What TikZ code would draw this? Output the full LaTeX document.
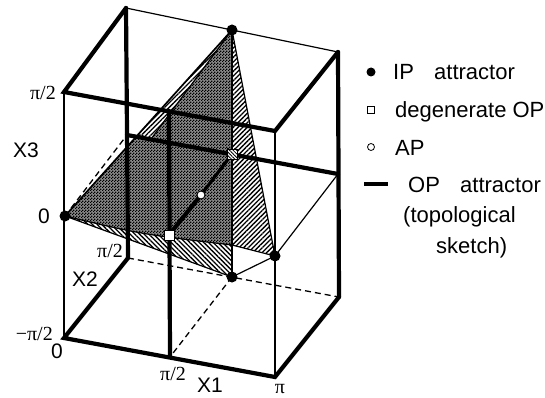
\documentclass[tikz,border=0pt]{standalone}
\usepackage{fontspec}
\setmainfont{Liberation Sans}
\newfontfamily\pifont{Liberation Serif}
\usetikzlibrary{patterns,patterns.meta}
\pgfdeclarepattern{
  name=chk,
  type=uncolored,
  bottom left={\pgfpoint{0pt}{0pt}},
  top right={\pgfpoint{3pt}{3pt}},
  tile size={\pgfpoint{3pt}{3pt}},
  code={
    \pgfpathrectangle{\pgfpoint{0pt}{0pt}}{\pgfpoint{1.6pt}{1.6pt}}
    \pgfpathrectangle{\pgfpoint{1.5pt}{1.5pt}}{\pgfpoint{1.5pt}{1.5pt}}
    \pgfusepath{fill}
  }
}
\begin{document}
\begin{tikzpicture}[x=1pt,y=-1pt,
  opline/.style={line width=4.2pt,line cap=round,line join=miter},
  thinln/.style={line width=1.2pt},
  dashln/.style={line width=1.3pt,dash pattern=on 6pt off 4pt},
  ipdot/.style={circle,fill=black,inner sep=0pt,minimum size=11pt},
  dgsq/.style={rectangle,draw=black,line width=0.9pt,fill=white,inner sep=0pt,minimum size=10pt},
  apcirc/.style={circle,draw=black,line width=0.9pt,fill=white,inner sep=0pt,minimum size=8pt},
  lbl/.style={inner sep=0pt,font=\fontsize{22}{26}\selectfont},
  axl/.style={inner sep=0pt,font=\fontsize{21}{24}\selectfont},
  pilbl/.style={inner sep=0pt,font=\pifont\fontsize{20}{24}\selectfont},
  xhatch/.style={pattern=chk,pattern color=black},
  hatchnw/.style={pattern={Lines[angle=-45,distance=3.3pt,line width=1.3pt]}},
  hatchne/.style={pattern={Lines[angle=45,distance=3.3pt,line width=1.3pt]}},
]
\useasboundingbox (0,0) rectangle (545,398);
% box corners
\coordinate (A) at (64,338);
\coordinate (B) at (275,377);
\coordinate (C) at (275,131);
\coordinate (D) at (64,92);
\coordinate (E) at (128,258);
\coordinate (F) at (339,297);
\coordinate (G) at (338,52);
\coordinate (H) at (126,8);
% inner points
\coordinate (Mfb) at (170,357);
\coordinate (Mft) at (169,111);
\coordinate (Mbb) at (232,277);
\coordinate (Mbt) at (232,30);
\coordinate (L0) at (65,216);
\coordinate (L0b) at (127,135);
\coordinate (R0) at (275,256);
\coordinate (R0b) at (338,174);
\coordinate (M0) at (169,235);
\coordinate (M0b) at (232,154);
\coordinate (AP) at (201,195);
\coordinate (S1) at (232,245);
\coordinate (In) at (151,139);
\coordinate (Out) at (139,133);
% shaded surfaces
\fill[hatchne] (Mbt) -- (R0) -- (S1) -- cycle;
\fill[hatchnw] (L0) -- (Mbb) -- (S1) .. controls (140,234) .. (L0) -- cycle;
\fill[black!46] (L0) -- (Mbt) -- (S1) .. controls (140,234) .. (L0) -- cycle;
\fill[xhatch] (L0) -- (Mbt) -- (S1) .. controls (140,234) .. (L0) -- cycle;
\fill[white] (Mbt) -- (In) -- (Out) -- cycle;
\fill[hatchne] (Mbt) -- (In) -- (Out) -- cycle;
% surface edges
\draw[thinln] (L0) -- (Mbb);
\draw[thinln] (S1) .. controls (140,234) .. (L0);
\draw[line width=1.7pt] (L0) -- (Mbt);
\draw[thinln] (Mbt) -- (In);
\draw[thinln] (Mbt) -- (Mbb);
\draw[thinln] (Mbt) -- (R0);
\draw[thinln] (S1) -- (R0);
% hidden lines
\draw[dashln] (E) -- (F);
\draw[dashln] (Mbb) -- (Mfb);
\draw[dashln] (L0) -- (L0b);
% thin lines
\draw[thinln] (A) -- (D);
\draw[thinln] (B) -- (C);
\draw[thinln] (H) -- (G);
\draw[thinln] (R0) -- (R0b);
\draw[thinln] (Mbb) -- (R0);
% OP attractor lines
\draw[opline] (E) -- (A) -- (B) -- (F);
\draw[opline] (H) -- (D) -- (C) -- (G);
\draw[opline] (H) -- (E);
\draw[opline] (G) -- (F);
\draw[opline] (Mft) -- (Mfb);
\draw[opline] (L0b) -- (R0b);
\draw[opline] (M0) -- (AP);
\draw[opline,line width=3.2pt] (AP) -- (M0b);
% markers
\node[ipdot] (dL) at (L0) {};
\node[ipdot] (dT) at (Mbt) {};
\node[ipdot] (dR) at (R0) {};
\node[ipdot] (dB) at (Mbb) {};
\node[dgsq] (sq1) at (M0) {};
\node[dgsq,preaction={fill=white},pattern={Lines[angle=-45,distance=2.5pt,line width=0.8pt]}] (sq2) at (M0b) {};
\node[apcirc] (ap) at (AP) {};
% axis labels
\node[pilbl,anchor=east] (z3top) at (56,93) {π/2};
\node[axl] (x3) at (26,150) {X3};
\node[axl] (z3zero) at (44,216) {0};
\node[pilbl] (x2top) at (110,251) {π/2};
\node[axl] (x2) at (85,279) {X2};
\node[pilbl,anchor=east] (z3bot) at (53,334) {−π/2};
\node[axl] (zero) at (57,351) {0};
\node[pilbl] (x1mid) at (173,374) {π/2};
\node[axl] (x1) at (210,385) {X1};
\node[pilbl] (x1end) at (280,389) {π};
% legend
\node[ipdot,minimum size=9pt] (lg1) at (371,72) {};
\node[lbl,anchor=base west] (lgt1a) at (393,80) {IP};
\node[lbl,anchor=base west] (lgt1b) at (434,80) {attractor};
\node[dgsq,minimum size=7pt,line width=0.8pt] (lg2) at (371,110) {};
\node[lbl,anchor=base west] (lgt2) at (395,118) {degenerate OP};
\node[apcirc,minimum size=7pt,line width=0.8pt] (lg3) at (371,147) {};
\node[lbl,anchor=base west] (lgt3) at (395,155) {AP};
\coordinate (lg4a) at (364,184);
\coordinate (lg4b) at (388,184);
\draw[line width=4pt] (lg4a) -- (lg4b);
\node[lbl,anchor=base west] (lgt4a) at (408,192) {OP};
\node[lbl,anchor=base west] (lgt4b) at (460,192) {attractor};
\node[lbl,anchor=base west] (lgt5) at (403,222) {(topological};
\node[lbl,anchor=base west] (lgt6) at (436,253) {sketch)};
\end{tikzpicture}
\end{document}
